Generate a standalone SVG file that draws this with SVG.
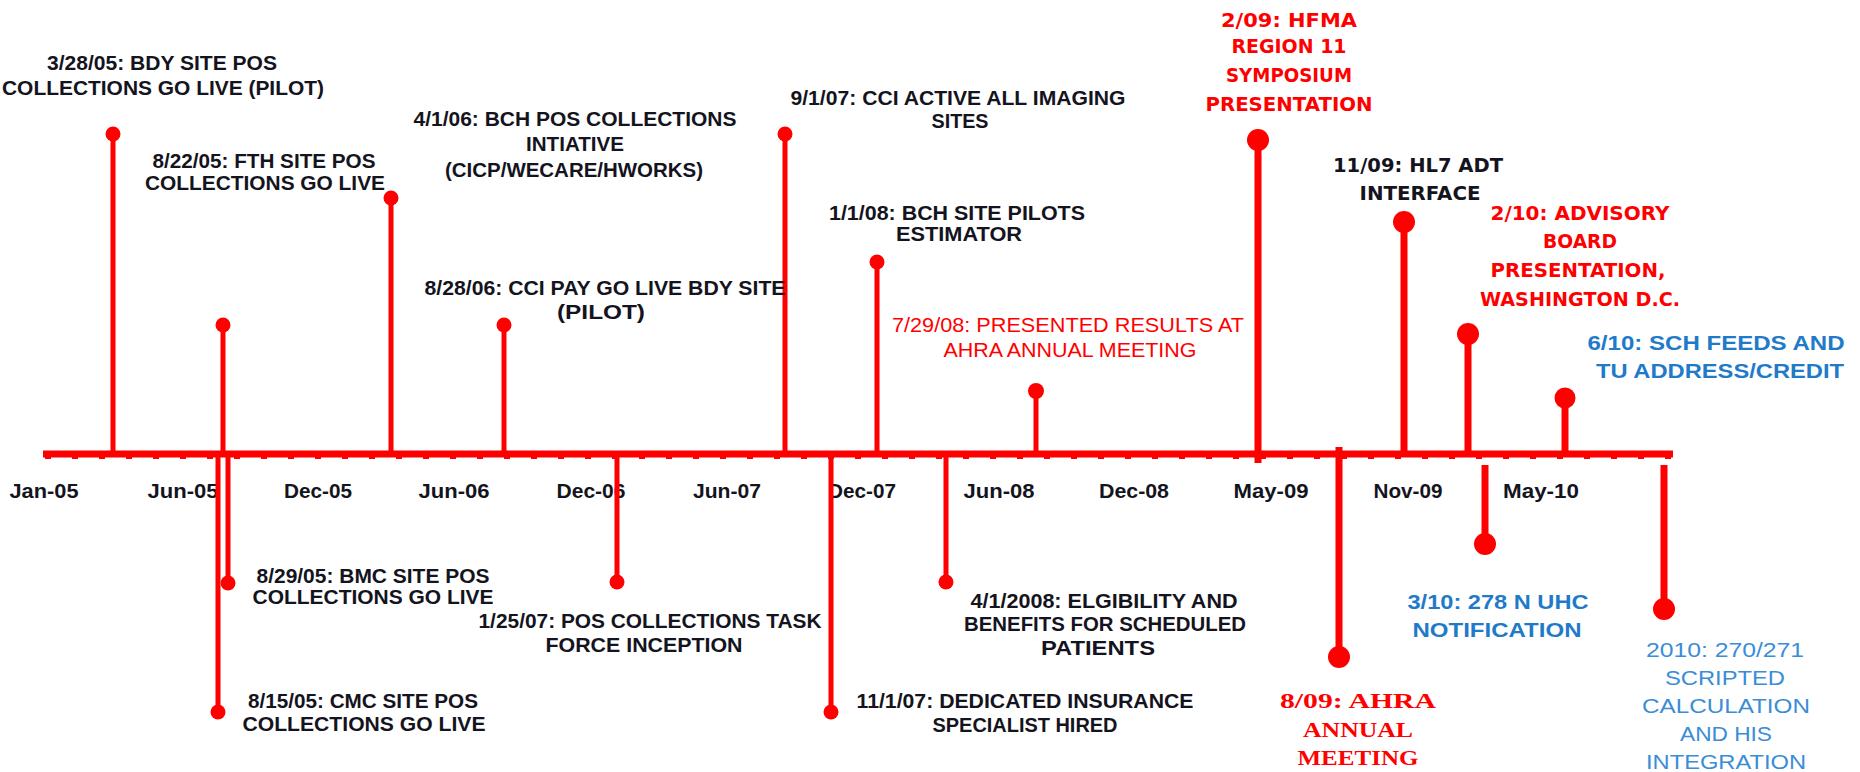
<svg xmlns="http://www.w3.org/2000/svg" width="1860" height="772" viewBox="0 0 1860 772">
<style>
.lb{font-family:"Liberation Sans",Arial,sans-serif;font-weight:bold;font-size:21px;fill:#141420;text-anchor:middle}
.tb{font-family:"DejaVu Sans",Verdana,sans-serif;font-weight:bold;font-size:19px;text-anchor:middle}
.rd{fill:#FF0000}
.bk{fill:#141420}
.bl{fill:#1F7BC9}
.bl2{fill:#3A8DD6;font-weight:normal}
.sf{font-family:"Liberation Serif","Times New Roman",serif;font-weight:bold;font-size:22px;fill:#FF0000;text-anchor:middle}
.mo{font-family:"Liberation Sans",Arial,sans-serif;font-weight:bold;font-size:20px;fill:#141420;text-anchor:middle}
.stem{stroke:#FF0000;stroke-width:5;fill:none}
.stem2{stroke:#FF0000;stroke-width:7;fill:none}
.dot{fill:#FF0000}
</style>
<rect width="1860" height="772" fill="#FFFFFF"/>
<g id="axis">
<line x1="43" y1="454" x2="1673" y2="454" stroke="#FF0000" stroke-width="7"/>
<line x1="45" y1="458" x2="1673" y2="458" stroke="#FF0000" stroke-width="2" stroke-dasharray="6 21"/>
<text class="mo" x="44" y="498" textLength="69" lengthAdjust="spacingAndGlyphs">Jan-05</text>
<text class="mo" x="183" y="498" textLength="71" lengthAdjust="spacingAndGlyphs">Jun-05</text>
<text class="mo" x="318" y="498" textLength="68" lengthAdjust="spacingAndGlyphs">Dec-05</text>
<text class="mo" x="454" y="498" textLength="71" lengthAdjust="spacingAndGlyphs">Jun-06</text>
<text class="mo" x="591" y="498" textLength="69" lengthAdjust="spacingAndGlyphs">Dec-06</text>
<text class="mo" x="727" y="498" textLength="68" lengthAdjust="spacingAndGlyphs">Jun-07</text>
<text class="mo" x="862" y="498" textLength="68" lengthAdjust="spacingAndGlyphs">Dec-07</text>
<text class="mo" x="999" y="498" textLength="71" lengthAdjust="spacingAndGlyphs">Jun-08</text>
<text class="mo" x="1134" y="498" textLength="70" lengthAdjust="spacingAndGlyphs">Dec-08</text>
<text class="mo" x="1271" y="498" textLength="75" lengthAdjust="spacingAndGlyphs">May-09</text>
<text class="mo" x="1408" y="498" textLength="69" lengthAdjust="spacingAndGlyphs">Nov-09</text>
<text class="mo" x="1541" y="498" textLength="76" lengthAdjust="spacingAndGlyphs">May-10</text>
</g>
<g id="connectors">
<line class="stem" x1="113" y1="134" x2="113" y2="453"/>
<line class="stem" x1="391" y1="198" x2="391" y2="453"/>
<line class="stem" x1="223" y1="325" x2="223" y2="453"/>
<line class="stem" x1="504" y1="325" x2="504" y2="453"/>
<line class="stem" x1="785" y1="134" x2="785" y2="453"/>
<line class="stem" x1="877" y1="262" x2="877" y2="453"/>
<line class="stem" x1="1036" y1="391" x2="1036" y2="453"/>
<line class="stem2" x1="1258" y1="140" x2="1258" y2="463"/>
<line class="stem2" x1="1404" y1="222" x2="1404" y2="453"/>
<line class="stem2" x1="1468" y1="334" x2="1468" y2="453"/>
<line class="stem2" x1="1565" y1="398" x2="1565" y2="453"/>
<line class="stem" x1="228" y1="453" x2="228" y2="583"/>
<line class="stem" x1="218" y1="453" x2="218" y2="712"/>
<line class="stem" x1="617" y1="453" x2="617" y2="582"/>
<line class="stem" x1="831" y1="453" x2="831" y2="712"/>
<line class="stem" x1="946" y1="453" x2="946" y2="582"/>
<line class="stem2" x1="1339" y1="447" x2="1339" y2="657"/>
<line class="stem2" x1="1485" y1="465" x2="1485" y2="544"/>
<line class="stem2" x1="1664" y1="465" x2="1664" y2="609"/>
</g>
<g id="ev-bdy">
<circle class="dot" cx="113" cy="134" r="7.5"/>
<text class="lb" x="162" y="70" textLength="230" lengthAdjust="spacingAndGlyphs">3/28/05: BDY SITE POS</text>
<text class="lb" x="163" y="95" textLength="322" lengthAdjust="spacingAndGlyphs">COLLECTIONS GO LIVE (PILOT)</text>
</g>
<g id="ev-fth">
<circle class="dot" cx="391" cy="198" r="7.5"/>
<text class="lb" x="264" y="168" textLength="223" lengthAdjust="spacingAndGlyphs">8/22/05: FTH SITE POS</text>
<text class="lb" x="265" y="190" textLength="240" lengthAdjust="spacingAndGlyphs">COLLECTIONS GO LIVE</text>
</g>
<g id="ev-jun05">
<circle class="dot" cx="223" cy="325" r="7.5"/>
</g>
<g id="ev-bch-initiative">
<text class="lb" x="575" y="126" textLength="323" lengthAdjust="spacingAndGlyphs">4/1/06: BCH POS COLLECTIONS</text>
<text class="lb" x="575" y="151" textLength="98" lengthAdjust="spacingAndGlyphs">INTIATIVE</text>
<text class="lb" x="574" y="177" textLength="258" lengthAdjust="spacingAndGlyphs">(CICP/WECARE/HWORKS)</text>
</g>
<g id="ev-ccipay">
<circle class="dot" cx="504" cy="325" r="7.5"/>
<text class="lb" x="605" y="295" textLength="361" lengthAdjust="spacingAndGlyphs">8/28/06: CCI PAY GO LIVE BDY SITE</text>
<text class="lb" x="601" y="319" textLength="88" lengthAdjust="spacingAndGlyphs">(PILOT)</text>
</g>
<g id="ev-cci-active">
<circle class="dot" cx="785" cy="134" r="7.5"/>
<text class="lb" x="958" y="105" textLength="335" lengthAdjust="spacingAndGlyphs">9/1/07: CCI ACTIVE ALL IMAGING</text>
<text class="lb" x="960" y="128" textLength="57" lengthAdjust="spacingAndGlyphs">SITES</text>
</g>
<g id="ev-bch-pilots">
<circle class="dot" cx="877" cy="262" r="7.5"/>
<text class="lb" x="957" y="220" textLength="256" lengthAdjust="spacingAndGlyphs">1/1/08: BCH SITE PILOTS</text>
<text class="lb" x="959" y="241" textLength="126" lengthAdjust="spacingAndGlyphs">ESTIMATOR</text>
</g>
<g id="ev-ahra-results">
<circle class="dot" cx="1036" cy="391" r="8"/>
<text class="lb rd" x="1068" y="332" textLength="352" lengthAdjust="spacingAndGlyphs" style="font-weight:normal">7/29/08: PRESENTED RESULTS AT</text>
<text class="lb rd" x="1070" y="357" textLength="253" lengthAdjust="spacingAndGlyphs" style="font-weight:normal">AHRA ANNUAL MEETING</text>
</g>
<g id="ev-hfma">
<circle class="dot" cx="1258" cy="140" r="11"/>
<text class="tb rd" x="1289" y="27" textLength="136" lengthAdjust="spacingAndGlyphs">2/09: HFMA</text>
<text class="tb rd" x="1289" y="53" textLength="115" lengthAdjust="spacingAndGlyphs">REGION 11</text>
<text class="tb rd" x="1289" y="82" textLength="126" lengthAdjust="spacingAndGlyphs">SYMPOSIUM</text>
<text class="tb rd" x="1289" y="111" textLength="167" lengthAdjust="spacingAndGlyphs">PRESENTATION</text>
</g>
<g id="ev-hl7">
<circle class="dot" cx="1404" cy="222" r="11"/>
<text class="tb bk" x="1418" y="172" textLength="170" lengthAdjust="spacingAndGlyphs">11/09: HL7 ADT</text>
<text class="tb bk" x="1420" y="200" textLength="121" lengthAdjust="spacingAndGlyphs">INTERFACE</text>
</g>
<g id="ev-advisory">
<circle class="dot" cx="1468" cy="334" r="11"/>
<text class="tb rd" x="1580" y="220" textLength="179" lengthAdjust="spacingAndGlyphs">2/10: ADVISORY</text>
<text class="tb rd" x="1580" y="248" textLength="74" lengthAdjust="spacingAndGlyphs">BOARD</text>
<text class="tb rd" x="1578" y="277" textLength="175" lengthAdjust="spacingAndGlyphs">PRESENTATION,</text>
<text class="tb rd" x="1580" y="306" textLength="200" lengthAdjust="spacingAndGlyphs">WASHINGTON D.C.</text>
</g>
<g id="ev-sch">
<circle class="dot" cx="1565" cy="398" r="10.5"/>
<text class="lb bl" x="1716" y="350" textLength="257" lengthAdjust="spacingAndGlyphs">6/10: SCH FEEDS AND</text>
<text class="lb bl" x="1720" y="378" textLength="248" lengthAdjust="spacingAndGlyphs">TU ADDRESS/CREDIT</text>
</g>
<g id="ev-bmc">
<circle class="dot" cx="228" cy="583" r="7.5"/>
<text class="lb" x="373" y="583" textLength="233" lengthAdjust="spacingAndGlyphs">8/29/05: BMC SITE POS</text>
<text class="lb" x="373" y="604" textLength="241" lengthAdjust="spacingAndGlyphs">COLLECTIONS GO LIVE</text>
</g>
<g id="ev-cmc">
<circle class="dot" cx="218" cy="712" r="7.5"/>
<text class="lb" x="363" y="708" textLength="230" lengthAdjust="spacingAndGlyphs">8/15/05: CMC SITE POS</text>
<text class="lb" x="364" y="731" textLength="243" lengthAdjust="spacingAndGlyphs">COLLECTIONS GO LIVE</text>
</g>
<g id="ev-taskforce">
<circle class="dot" cx="617" cy="582" r="7.5"/>
<text class="lb" x="650" y="628" textLength="343" lengthAdjust="spacingAndGlyphs">1/25/07: POS COLLECTIONS TASK</text>
<text class="lb" x="644" y="652" textLength="197" lengthAdjust="spacingAndGlyphs">FORCE INCEPTION</text>
</g>
<g id="ev-insurance">
<circle class="dot" cx="831" cy="712" r="7.5"/>
<text class="lb" x="1025" y="708" textLength="337" lengthAdjust="spacingAndGlyphs">11/1/07: DEDICATED INSURANCE</text>
<text class="lb" x="1025" y="732" textLength="185" lengthAdjust="spacingAndGlyphs">SPECIALIST HIRED</text>
</g>
<g id="ev-eligibility">
<circle class="dot" cx="946" cy="582" r="7.5"/>
<text class="lb" x="1104" y="608" textLength="267" lengthAdjust="spacingAndGlyphs">4/1/2008: ELGIBILITY AND</text>
<text class="lb" x="1105" y="631" textLength="282" lengthAdjust="spacingAndGlyphs">BENEFITS FOR SCHEDULED</text>
<text class="lb" x="1098" y="655" textLength="114" lengthAdjust="spacingAndGlyphs">PATIENTS</text>
</g>
<g id="ev-ahra-meeting">
<circle class="dot" cx="1339" cy="657" r="11"/>
<text class="sf" x="1358" y="708" textLength="156" lengthAdjust="spacingAndGlyphs">8/09: AHRA</text>
<text class="sf" x="1358" y="737" textLength="110" lengthAdjust="spacingAndGlyphs">ANNUAL</text>
<text class="sf" x="1358" y="765" textLength="121" lengthAdjust="spacingAndGlyphs">MEETING</text>
</g>
<g id="ev-uhc">
<circle class="dot" cx="1485" cy="544" r="11"/>
<text class="lb bl" x="1498" y="609" textLength="181" lengthAdjust="spacingAndGlyphs">3/10: 278 N UHC</text>
<text class="lb bl" x="1497" y="637" textLength="169" lengthAdjust="spacingAndGlyphs">NOTIFICATION</text>
</g>
<g id="ev-2010">
<circle class="dot" cx="1664" cy="609" r="11"/>
<text class="lb bl2" x="1725" y="657" textLength="158" lengthAdjust="spacingAndGlyphs">2010: 270/271</text>
<text class="lb bl2" x="1725" y="685" textLength="120" lengthAdjust="spacingAndGlyphs">SCRIPTED</text>
<text class="lb bl2" x="1726" y="713" textLength="168" lengthAdjust="spacingAndGlyphs">CALCULATION</text>
<text class="lb bl2" x="1726" y="741" textLength="92" lengthAdjust="spacingAndGlyphs">AND HIS</text>
<text class="lb bl2" x="1726" y="769" textLength="160" lengthAdjust="spacingAndGlyphs">INTEGRATION</text>
</g>
</svg>
